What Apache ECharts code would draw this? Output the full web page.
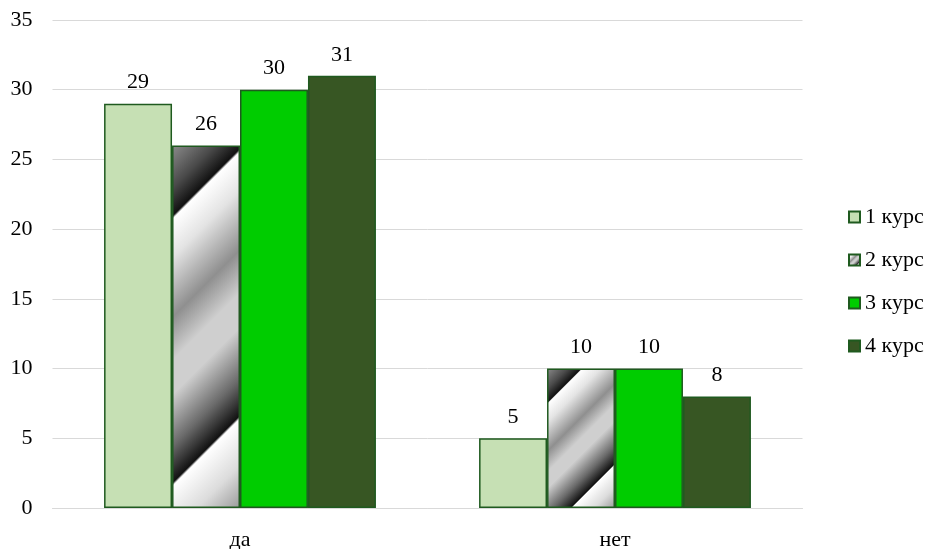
<!DOCTYPE html>
<html><head><meta charset="utf-8">
<script src="https://cdn.jsdelivr.net/npm/echarts@6/dist/echarts.min.js"></script>
<style>html,body{margin:0;padding:0;background:#fff}#c{width:928px;height:549px}</style>
</head><body><div id="c"></div>
<script>
const categories = ['да', 'нет'];
const seriesNames = ['1 курс', '2 курс', '3 курс', '4 курс'];
const kurs1 = [29, 5];
const kurs2 = [26, 10];
const kurs3 = [30, 10];
const kurs4 = [31, 8];
const yTicks = [0, 5, 10, 15, 20, 25, 30, 35];

const FONT = '"Liberation Serif", "Times New Roman", serif';
const BORDER = '#1f5a1f';
const stripeStops = [
  {offset: 0, color: '#8c8c8c'},
  {offset: 0.10, color: '#4a4a4a'},
  {offset: 0.165, color: '#111111'},
  {offset: 0.172, color: '#ffffff'},
  {offset: 0.26, color: '#e4e4e4'},
  {offset: 0.40, color: '#8f8f8f'},
  {offset: 0.50, color: '#cfcfcf'},
  {offset: 0.58, color: '#cfcfcf'},
  {offset: 0.70, color: '#6a6a6a'},
  {offset: 0.785, color: '#111111'},
  {offset: 0.792, color: '#ffffff'},
  {offset: 0.90, color: '#dcdcdc'},
  {offset: 1, color: '#9a9a9a'}
];
function grad(x2, y2) {
  return {type: 'linear', x: 0, y: 0, x2: x2, y2: y2, colorStops: stripeStops};
}

const chart = echarts.init(document.getElementById('c'), null, {renderer: 'canvas'});
const labelCfg = {show: true, position: 'top', distance: 10, color: '#000', fontFamily: FONT, fontSize: 22};
const itemBase = {borderColor: BORDER, borderWidth: 1.5};

function build(kurs2Data) {
  return {
    animation: false,
    backgroundColor: '#fff',
    grid: {left: 52.5, right: 125.5, top: 20, bottom: 41, containLabel: false, outerBoundsMode: 'none'},
    legend: {
      orient: 'vertical', left: 843, top: 201, itemWidth: 11, itemHeight: 11, itemGap: 21,
      icon: 'rect',
      textStyle: {fontFamily: FONT, fontSize: 22, color: '#000'},
      data: seriesNames
    },
    xAxis: {
      type: 'category', data: categories,
      axisLine: {show: true, lineStyle: {color: '#d9d9d9', width: 1}},
      axisTick: {show: false},
      axisLabel: {fontFamily: FONT, fontSize: 22, color: '#000', margin: 21}
    },
    yAxis: {
      type: 'value', min: yTicks[0], max: yTicks[yTicks.length - 1], interval: 5,
      axisLine: {show: false}, axisTick: {show: false},
      splitLine: {lineStyle: {color: '#d9d9d9', width: 1}},
      axisLabel: {fontFamily: FONT, fontSize: 22, color: '#000', margin: 20, verticalAlign: 'middle', padding: [3, 0, 0, 0]}
    },
    series: [
      {name: seriesNames[0], type: 'bar', data: kurs1, barGap: '0%', barCategoryGap: '27.5%',
        itemStyle: Object.assign({color: '#c6e0b4'}, itemBase), label: labelCfg},
      {name: seriesNames[1], type: 'bar', data: kurs2Data, barGap: '0%', barCategoryGap: '27.5%',
        itemStyle: Object.assign({color: grad(1, 1)}, itemBase), label: labelCfg},
      {name: seriesNames[2], type: 'bar', data: kurs3, barGap: '0%', barCategoryGap: '27.5%',
        itemStyle: Object.assign({color: '#00cc00'}, itemBase), label: labelCfg},
      {name: seriesNames[3], type: 'bar', data: kurs4, barGap: '0%', barCategoryGap: '27.5%',
        itemStyle: Object.assign({color: '#375623'}, itemBase), label: labelCfg}
    ]
  };
}

chart.setOption(build(kurs2));
// second pass: make stripes run at 45 degrees in pixel space for each bar
const c0 = chart.convertToPixel({xAxisIndex: 0}, categories[0]);
const c1 = chart.convertToPixel({xAxisIndex: 0}, categories[1]);
const catW = Math.abs(c1 - c0);
const w = catW * (1 - 0.275) / 4;
const y0 = chart.convertToPixel({yAxisIndex: 0}, 0);
const k2 = kurs2.map(function (v) {
  const h = Math.abs(y0 - chart.convertToPixel({yAxisIndex: 0}, v));
  const d = (w + h) / 2;
  return {value: v, itemStyle: {color: grad(d / w, d / h)}};
});
chart.setOption(build(k2));
</script>
</body></html>
